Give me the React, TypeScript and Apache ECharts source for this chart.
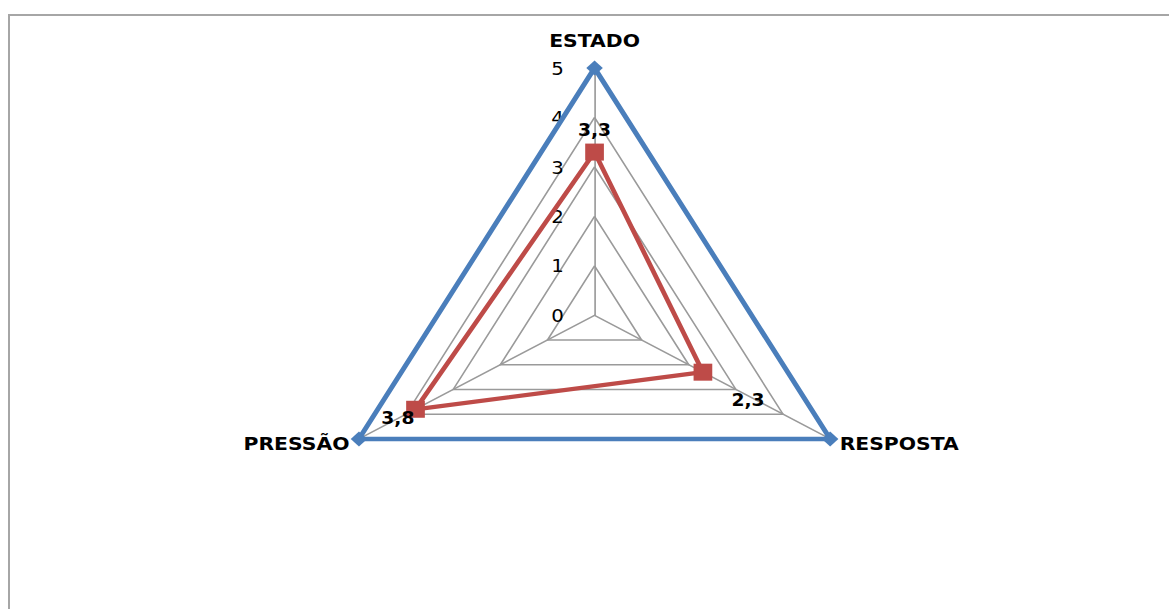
import React, { useEffect, useRef } from 'react';
import * as echarts from 'echarts';

// ---- data ----
const indicatorNames = ['ESTADO', 'PRESSÃO', 'RESPOSTA'];
const indicatorMax = [5, 5, 5];
const referenceValues = [5, 5, 5];
const observedValues = [3.3, 3.8, 2.3];
const tickLabels = ['0', '1', '2', '3', '4', '5'];

// ---- layout ----
const SX = 1.1; // horizontal stretch of the original picture
const W = 1169 / SX;
const H = 609;
const FONT = 'DejaVu Sans';
const BLUE = '#4a7ebb';
const RED = '#be4b48';
const GRID = '#9a9a9a';

// label offsets (dx, dy) keyed by the index of the value in observedValues
const labelOffsets: [number, number][] = [
  [0, -22],
  [-16, 9],
  [41, 28],
];

const fmt = (v: number) => String(v).replace('.', ',');

export default function App() {
  const ref = useRef<HTMLDivElement>(null);
  useEffect(() => {
    if (!ref.current) return;
    const chart = echarts.init(ref.current, null, { renderer: 'svg' });
    chart.setOption({
      animation: false,
      backgroundColor: 'transparent',
      radar: {
        center: [540.5, 315.3],
        radius: 247.3,
        startAngle: 90,
        shape: 'polygon',
        splitNumber: 5,
        nameGap: 10,
        axisName: {
          color: '#000',
          fontFamily: FONT,
          fontWeight: 'bold',
          fontSize: 18.5,
        },
        indicator: indicatorNames.map((name, i) => {
          const ind: any = { name, min: 0, max: indicatorMax[i] };
          if (i === 0) {
            ind.nameGap = 18;
            ind.axisLabel = {
              show: true,
              margin: 28,
              color: '#000',
              fontFamily: FONT,
              fontSize: 18,
              padding: [6, 0, 0, 0],
              showMinLabel: true,
              showMaxLabel: true,
              formatter: (v: number) => tickLabels[Math.round(v)] ?? String(v),
            };
          }
          return ind;
        }),
        axisLine: { show: true, lineStyle: { color: GRID, width: 1.5 } },
        splitLine: { show: true, lineStyle: { color: GRID, width: 1.5 } },
        splitArea: { show: false },
        axisTick: { show: false },
        axisLabel: { show: false },
      },
      series: [
        {
          type: 'radar',
          labelLayout: (params: any) => {
            const idx = observedValues.findIndex((v) => fmt(v) === params.text);
            if (idx < 0) return {};
            return { dx: labelOffsets[idx][0], dy: labelOffsets[idx][1] };
          },
          data: [
            {
              name: 'Referência',
              value: referenceValues,
              symbol: 'diamond',
              symbolSize: 15,
              lineStyle: { color: BLUE, width: 4.6 },
              itemStyle: { color: BLUE },
              label: { show: false },
            },
            {
              name: 'Avaliação',
              value: observedValues,
              symbol: 'rect',
              symbolSize: 17,
              lineStyle: { color: RED, width: 4.3 },
              itemStyle: { color: RED },
              label: {
                show: true,
                position: 'inside',
                color: '#000',
                fontFamily: FONT,
                fontWeight: 'bold',
                fontSize: 17,
                formatter: (p: any) => fmt(p.value),
              },
            },
          ],
        },
      ],
    });
    return () => chart.dispose();
  }, []);

  return (
    <div
      style={{
        position: 'fixed',
        left: 0,
        top: 0,
        width: 1169,
        height: 609,
        overflow: 'hidden',
        background: '#fff',
      }}
    >
      <div
        ref={ref}
        style={{
          position: 'absolute',
          left: 0,
          top: 0,
          width: W,
          height: H,
          transform: `scaleX(${SX})`,
          transformOrigin: '0 0',
        }}
      />
      <div
        style={{
          position: 'absolute',
          left: 8,
          top: 14,
          width: 1300,
          height: 800,
          border: '2px solid #a6a6a6',
          pointerEvents: 'none',
        }}
      />
    </div>
  );
}
